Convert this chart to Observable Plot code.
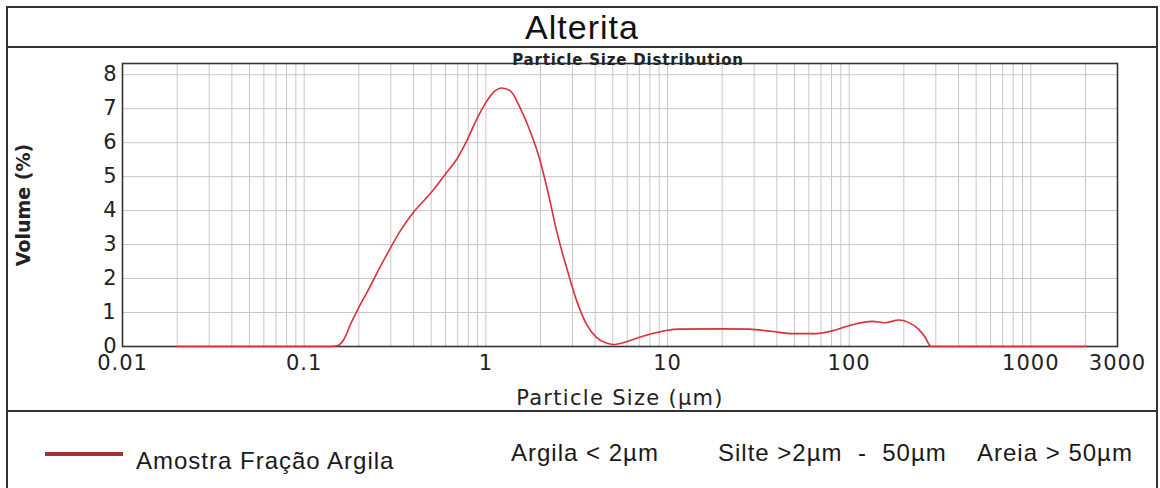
<!DOCTYPE html>
<html>
<head>
<meta charset="utf-8">
<script src="https://cdn.jsdelivr.net/npm/d3@7"></script>
<script src="https://cdn.jsdelivr.net/npm/@observablehq/plot@0.6"></script>
<style>
  html, body { margin: 0; padding: 0; background: #fff; }
  #box { position: absolute; left: 6px; top: 6px; width: 1152px; height: 492px; box-sizing: border-box;
         border: 2px solid #333; border-bottom: none; }
  #title { position: relative; height: 38px; border-bottom: 2px solid #333; }
  #title span { position: absolute; left: 0; right: 0; top: 2px; text-align: center;
                font: 34px "Liberation Sans", Arial, sans-serif; line-height: 1; color: #111; letter-spacing: 1px; }
  #chart { height: 362px; }
  #legend { position: relative; border-top: 2px solid #333; height: 80px; }
  #legend .sw { position: absolute; left: 37px; top: 40px; width: 78px; height: 4px; background: #a3322e; }
  #legend .t { position: absolute; font: 24px "Liberation Sans", Arial, sans-serif; line-height: 1;
               color: #1a1a1a; letter-spacing: 1px; white-space: pre; }
</style>
</head>
<body>
<div id="box">
  <div id="title"><span id="titleText"></span></div>
  <div id="chart"></div>
  <div id="legend"></div>
</div>
<script>
// ---- data ----
const chartTitle = "Alterita";
const plotTitle = "Particle Size Distribution";
const xLabel = "Particle Size (µm)";
const yLabel = "Volume (%)";
const seriesName = "Amostra Fração Argila";
const classNotes = ["Argila < 2µm", "Silte >2µm  -  50µm", "Areia > 50µm"];

const sizes = [0.02, 0.1, 0.14, 0.152, 0.166, 0.18, 0.2, 0.2225, 0.263, 0.3, 0.339, 0.4, 0.5, 0.6, 0.693, 0.786, 0.893,
  1.0, 1.1, 1.224, 1.36, 1.54, 1.75, 1.99, 2.21, 2.45, 2.78, 3.16, 3.58, 4.06, 4.6, 5.01, 5.93, 7.02, 8.3,
  10.0, 11.6, 19.7, 28.2, 37.9, 48.7, 66.7, 80.7, 104, 134, 158, 187.5, 212, 241, 262, 283, 1000, 2000];
const volumes = [0, 0, 0, 0.02, 0.22, 0.66, 1.15, 1.61, 2.36, 2.92, 3.41, 3.95, 4.53, 5.08, 5.52, 6.06, 6.70,
  7.18, 7.48, 7.61, 7.53, 7.04, 6.35, 5.47, 4.49, 3.41, 2.33, 1.35, 0.66, 0.27, 0.10, 0.06, 0.14, 0.27, 0.38,
  0.48, 0.51, 0.52, 0.51, 0.44, 0.38, 0.38, 0.46, 0.64, 0.74, 0.70, 0.78, 0.71, 0.51, 0.27, 0, 0, 0];

const xTickValues = [0.01, 0.1, 1, 10, 100, 1000, 3000];
const xTickLabels = ["0.01", "0.1", "1", "10", "100", "1000", "3000"];
const yTickValues = [0, 1, 2, 3, 4, 5, 6, 7, 8];
const gridXValues = [0.02, 0.03, 0.04, 0.05, 0.06, 0.07, 0.08, 0.09,
  0.1, 0.2, 0.3, 0.4, 0.5, 0.6, 0.7, 0.8, 0.9,
  1, 2, 3, 4, 5, 6, 7, 8, 9,
  10, 20, 30, 40, 50, 60, 70, 80, 90,
  100, 200, 300, 400, 500, 600, 700, 800, 900,
  1000, 2000];
const gridYValues = [1, 2, 3, 4, 5, 6, 7, 8];

// ---- build ----
const data = sizes.map((s, i) => ({size: s, volume: volumes[i]}));
const xTicks = xTickValues.map((v, i) => ({value: v, label: xTickLabels[i]}));
const gridColor = "#cdc4c4";

const chart = Plot.plot({
  width: 1148,
  height: 362,
  marginLeft: 114,
  marginRight: 39,
  marginTop: 15,
  marginBottom: 64,
  style: {fontFamily: "DejaVu Sans", background: "transparent", color: "#222"},
  x: {type: "log", domain: [0.01, 3000], axis: null},
  y: {domain: [0, 8.33], axis: null},
  marks: [
    Plot.ruleX(gridXValues, {stroke: gridColor, strokeWidth: 1}),
    Plot.ruleY(gridYValues, {stroke: gridColor, strokeWidth: 1}),
    Plot.frame({stroke: "#333", strokeWidth: 1.6}),
    Plot.text(xTicks, {x: "value", text: "label", frameAnchor: "bottom", lineAnchor: "top", textAnchor: "middle",
      dy: 9, fontSize: 21, fill: "#222"}),
    Plot.text(yTickValues, {y: d => d, text: d => String(d), frameAnchor: "left", textAnchor: "end",
      lineAnchor: "middle", dx: -6, fontSize: 21, fill: "#222"}),
    Plot.text([plotTitle], {frameAnchor: "top", dx: 8, dy: 1, lineAnchor: "bottom", textAnchor: "middle",
      fontWeight: "bold", fontSize: 15, fill: "#222"}),
    Plot.text([xLabel], {frameAnchor: "bottom", dy: 52, lineAnchor: "middle", textAnchor: "middle",
      fontSize: 21, fill: "#222"}),
    Plot.text([yLabel], {frameAnchor: "left", dx: -99, rotate: -90, lineAnchor: "middle", textAnchor: "middle",
      fontWeight: "bold", fontSize: 19, fill: "#222"}),
    Plot.line(data, {x: "size", y: "volume", stroke: "#d9303a", strokeWidth: 1.6, curve: "monotone-x"})
  ]
});

document.getElementById("chart").appendChild(chart);
// widen the chart's lettering slightly, as in the (horizontally stretched) reference
d3.select(chart).selectAll("text").each(function() {
  const t = d3.select(this);
  const s = t.text();
  if (s === plotTitle) t.style("letter-spacing", "0.8px");
  else if (s === xLabel) t.style("letter-spacing", "1.3px");
  else if (xTickLabels.includes(s)) t.style("letter-spacing", "1px");
});

document.getElementById("titleText").textContent = chartTitle;

const legend = d3.select("#legend");
legend.append("div").attr("class", "sw");
legend.append("div").attr("class", "t").style("left", "128px").style("top", "37px").text(seriesName);
const noteLefts = [503, 710, 969];
classNotes.forEach((t, i) => {
  legend.append("div").attr("class", "t").style("left", noteLefts[i] + "px").style("top", "29px").text(t);
});
</script>
</body>
</html>
